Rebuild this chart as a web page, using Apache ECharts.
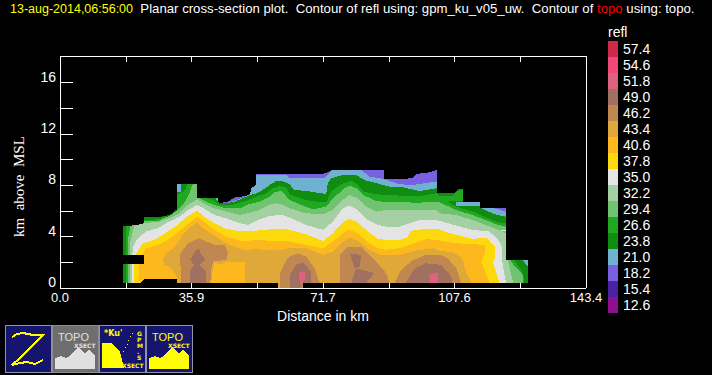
<!DOCTYPE html>
<html>
<head>
<meta charset="utf-8">
<script src="https://cdn.jsdelivr.net/npm/echarts@6/dist/echarts.min.js"></script>
<style>
html, body { margin: 0; padding: 0; background: #000; }
#chart { width: 712px; height: 375px; }
/* the original is an unsmoothed bitmap plot */
#chart svg path { shape-rendering: crispEdges; }
</style>
</head>
<body>
<div id="chart"></div>
<script>
var xTickLabels = ['0.0', '', '35.9', '', '71.7', '', '107.6', '', '143.4'];
var yTickLabels = ['0', '', '4', '', '8', '', '12', '', '16'];
var yTicks = [0, 2, 4, 6, 8, 10, 12, 14, 16];
var legendLabels = ['12.6', '15.4', '18.2', '21.0', '23.8', '26.6', '29.4', '32.2', '35.0',
    '37.8', '40.6', '43.4', '46.2', '49.0', '51.8', '54.6', '57.4'];
var legendColors = ['#8c1090', '#4c20a0', '#7860e0', '#70b0d0', '#108c10', '#20a820', '#70c470', '#a4d0a4', '#e4e4e4',
    '#fcd80c', '#fcb81c', '#e0a838', '#c08850', '#a07060', '#e06080', '#f04878', '#d02848'];

// contour regions, [distance km, height km]
var refl_18_2 = [[17.3,0.4],[17.3,4.86],[22.6,4.86],[23,5.05],[23,5.51],[26.7,5.51],[29.9,5.69],[31.9,6.14],[31.9,8.11],[37.4,8.11],[37.4,7.05],[43.2,7.05],[43.2,6.6],[45.8,6.73],[47.6,7.05],[50.8,7.17],[51.9,7.38],[52.1,7.77],[53.5,8.03],[53.5,8.89],[71.7,8.89],[74.4,9.2],[88.2,9.2],[88.2,8.5],[92.6,8.5],[96.2,8.55],[97.1,8.89],[100.3,8.99],[102.7,9.2],[102.7,7.38],[107.6,7.38],[108.5,7.72],[110,7.72],[110,6.68],[114.4,6.68],[114.4,6.27],[121.46,6.21],[121.46,2.19],[127.5,2.19],[127.5,0.4]];
var refl_21_0 = [[17.3,0.4],[17.3,4.86],[22.6,4.86],[23,5.05],[23,5.51],[26.7,5.51],[29.9,5.69],[31.9,6.14],[31.9,8.11],[37.4,8.11],[37.4,7.05],[43.2,7.05],[43.2,6.6],[45.8,6.65],[47.6,6.8],[50.8,7.17],[51.9,7.38],[52.1,7.77],[53.5,8.03],[53.5,8.84],[61.7,8.84],[62.6,8.6],[72.1,8.6],[74.4,9.2],[82.1,9.2],[84.4,8.68],[88.2,8.5],[92.6,8.08],[96.2,8.03],[102.7,8.29],[102.7,7.38],[107.6,7.38],[108.5,7.72],[110,7.72],[110,6.68],[114.4,6.68],[114.4,6.27],[118.5,6.21],[121.46,5.95],[121.46,2.19],[127.5,2.19],[127.5,0.4]];
var refl_23_8 = [[17.3,0.4],[17.3,4.86],[22.6,4.86],[23,5.05],[23,5.51],[26.7,5.51],[29.9,5.69],[31.9,6.14],[31.9,7.51],[32.9,7.51],[32.9,8.11],[37.4,8.11],[37.4,7.05],[42.2,7.05],[43.3,6.66],[45.3,6.6],[47.6,6.73],[51.2,7.17],[53.5,7.38],[55.3,7.64],[57.6,8.11],[59,8.34],[61.2,8.29],[62.6,8.08],[63.9,7.64],[67.1,7.56],[72.6,7.33],[73,8.16],[73.9,8.55],[77.1,8.81],[80.7,8.81],[83,8.42],[86.4,8.16],[89.8,7.9],[92.6,7.9],[98,7.56],[102.7,7.77],[102.7,7.38],[107.6,7.38],[108.5,7.72],[110,7.72],[110,6.68],[108,6.68],[108,6.42],[114.4,6.42],[114.4,6.27],[115.3,6.14],[118.5,5.75],[121.46,5.56],[121.46,2.19],[126,2.19],[127.5,1.72],[127.5,0.4]];
var refl_26_6 = [[18.04,0.4],[18.04,4.86],[22.6,4.86],[23,5.3],[26.7,5.35],[29.9,5.6],[31.9,6],[31.9,7.25],[32.6,7.38],[34.2,7.64],[34.6,8.11],[37.4,8.11],[37.4,7.05],[39.9,7],[42.1,6.81],[43.5,6.47],[47.1,6.47],[50.8,6.81],[53.5,7.12],[56.2,7.38],[58,7.77],[59.9,7.95],[61.7,7.85],[62.6,7.3],[66.2,6.91],[70.8,6.68],[72.6,6.68],[73.9,7.51],[76.2,8.03],[79.4,8.37],[81.2,8.03],[83,7.51],[86.2,7.3],[89.8,7.25],[92.6,7.2],[98,7.17],[102.7,7.38],[103.46,7.2],[107,7.2],[108.5,7.55],[110,7.72],[110,6.76],[106.2,6.76],[106,6.66],[108,6.34],[112.5,5.95],[118.9,5.17],[121.46,5.04],[121.46,2.19],[123.9,2.19],[126.2,1.15],[126.6,0.4]];
var refl_29_4 = [[18.5,0.4],[18.5,3.75],[19.2,4.86],[22.6,4.97],[23,5.23],[26.7,5.23],[30.3,5.69],[32.1,6.08],[33.5,6.47],[34.9,7.12],[36.2,8.11],[37.4,8.11],[37.4,7.05],[38,6.99],[39.9,6.73],[42.1,6.47],[45.3,6.21],[49,6.21],[51.7,6.55],[54.4,6.73],[57.1,7.12],[58.5,7.46],[60.3,7.59],[62.6,6.86],[66.2,6.42],[69,6.14],[72.6,6.34],[74.4,6.99],[77.6,7.77],[78.9,7.98],[81.2,7.72],[83,7.2],[86.2,6.78],[89.8,6.68],[92.6,6.68],[98,6.65],[102.7,6.73],[103.46,6.68],[108,6.08],[112.5,5.69],[118.9,4.97],[121.46,4.78],[121.46,2.19],[122.8,2.19],[123.7,1.8],[125.3,1.28],[126.2,1.02],[126.2,0.4]];
var refl_32_2 = [[19.1,0.4],[19.1,3.49],[20.3,4.86],[23,5.05],[27.1,5.17],[30.3,5.51],[32.6,5.82],[34.9,6.47],[37.4,6.92],[39.9,6.47],[42.1,6.21],[45.3,5.95],[49,5.69],[51.2,5.82],[54.4,6.08],[57.1,6.47],[58.9,6.6],[60.8,6.47],[62.6,6.21],[67.1,5.82],[71.7,5.75],[74.4,6.08],[77.1,6.86],[78.9,7.25],[81.2,6.99],[83.5,6.34],[86.2,5.95],[88.9,6.08],[92.6,6.08],[98,6.08],[102.7,6.08],[103.46,5.82],[108,5.69],[112.5,5.3],[118.9,4.6],[121.46,4.27],[121.46,2.19],[122.1,2.19],[123,1.02],[123.6,0.4]];
var refl_35_0 = [[19.7,0.4],[19.7,2.45],[19.9,3.23],[21.2,3.88],[23.5,4.4],[26.7,4.66],[29.4,5.12],[32.6,5.56],[34.9,6.08],[37.4,6.47],[39.9,6.08],[42.1,5.69],[45.3,5.43],[49,5.05],[51.2,4.92],[54,5.3],[57.1,5.62],[60.8,5.69],[62.6,5.49],[67.1,4.92],[71.7,4.53],[74.4,5.17],[77.1,6.21],[78.9,6.42],[81.2,6.08],[83.9,5.3],[86.7,4.91],[88.9,4.78],[92.6,4.78],[98,5.3],[102.7,5.3],[103.46,5.23],[108,4.86],[112.5,4.53],[117.1,4.4],[119.4,3.75],[120.5,3.23],[120.5,2.19],[121.2,1.02],[121.6,0.4]];
var refl_35_0_sliver = [[120.1,4.5],[121.46,4.5],[121.46,4.42],[120.1,4.42]];
var refl_37_8 = [[20.3,0.4],[20.3,1.87],[20.8,2.71],[22.6,3.49],[25.8,3.75],[29.4,4.4],[32.1,4.92],[34.6,5.56],[37.4,6.03],[39.9,5.43],[42.1,5.05],[45.3,4.6],[49.9,4.4],[53.5,4.47],[58,4.58],[61.7,4.58],[62.6,4.53],[67.1,4.19],[71.7,3.67],[74.4,4.27],[77.1,5.12],[78.9,5.38],[81.2,5.12],[83.9,4.4],[86.7,3.82],[88.9,3.75],[92.6,3.75],[94.8,3.95],[95.5,4.45],[98.9,4.58],[103,4.58],[103.46,4.53],[108,4.14],[112.5,3.82],[116.2,3.93],[118.5,3.23],[118.5,2.24],[118,2.06],[119.8,0.4]];
var refl_40_6 = [[21.7,0.4],[21.5,1.87],[22.1,2.45],[23.5,3.1],[26.7,3.36],[29.4,3.75],[32.1,4.32],[34.6,4.92],[37.4,5.56],[39.9,5.05],[42.1,4.53],[45.3,4.01],[49.9,3.62],[53.5,3.75],[58,3.67],[61.7,3.7],[62.6,3.62],[67.1,3.36],[71.7,3.1],[74.4,3.62],[77.1,4.27],[78.9,4.53],[81.2,4.27],[83.9,3.56],[86.7,3.1],[88.9,2.97],[92.6,3.1],[99.8,3.8],[103,3.75],[103.46,3.67],[108,3.49],[112.5,3.41],[115.7,3.36],[115.9,2.79],[114.8,2.06],[117.1,0.4]];
var refl_43_4 = [[31.9,0.4],[31.9,0.89],[30.3,1.54],[28.5,1.8],[28,2.19],[29,2.71],[31.2,3.18],[33.5,4.14],[35.8,4.79],[37.4,5.1],[39,4.66],[41.7,4.14],[45.3,3.49],[49.9,2.97],[53.5,3.02],[56.2,2.97],[59.9,2.92],[62.1,3.1],[67.1,3.1],[71.7,2.58],[74.4,2.84],[77.1,3.62],[78.9,3.93],[81.2,3.67],[84.4,2.97],[87.1,2.58],[92.6,2.58],[97.1,2.92],[101.7,3.1],[103.46,2.89],[107.1,2.79],[109,2.45],[110,2.06],[110.3,1.54],[112.1,0.4],[66.2,0.4],[66.2,0],[59.4,0],[59.4,0.4]];
var refl_40_6_pocket = [[41.2,0.4],[41.7,1.41],[42.1,1.93],[44,1.87],[45.8,2.06],[50.3,2.06],[50.3,0.4]];
var refl_46_2_a = [[33,0.4],[33,1.28],[32.6,2.58],[34.9,3.49],[38,3.88],[39.9,3.62],[42.1,3.36],[44.9,3.36],[45.8,2.71],[45.3,2.19],[41.7,2.06],[41.2,1.41],[41,0.4]];
var refl_46_2_b = [[59.9,0],[59.9,1.15],[61.7,2.19],[62.6,2.45],[64.8,2.71],[67.1,2.45],[69.4,1.54],[70.8,0.4],[66.2,0.4],[66.2,0]];
var refl_46_2_c = [[76.2,0.4],[76.2,2.58],[78.5,3.23],[82.1,3.23],[86.2,2.06],[88.9,1.15],[89.8,0.4]];
var refl_46_2_d = [[91.2,0.4],[93,1.41],[96.2,2.19],[99.8,2.58],[103.9,2.58],[105.7,2.32],[108,1.54],[109.4,0.4]];
var refl_49_0_a = [[35.3,0.4],[35.5,1.41],[36.7,1.8],[35.5,2.19],[37.1,2.97],[38,3.02],[38.5,2.58],[39.7,2.19],[37.9,1.8],[39.7,1.28],[39.7,0.4]];
var refl_49_0_b = [[62.6,0],[62.6,1.02],[64.4,1.8],[66.2,2],[68.5,1.28],[68.5,0.4],[65.7,0.4],[65.6,0]];
var refl_49_0_c = [[78.9,2.71],[82.1,2.58],[81.7,1.67],[80.3,1.54]];
var refl_49_0_d = [[79.4,0.4],[80.7,1.54],[85.7,1.15],[83.5,0.4]];
var refl_49_0_e = [[94.2,0.4],[96.7,1.54],[99.8,1.93],[103.9,1.8],[106.7,0.89],[106.9,0.4]];
var refl_51_8_a = [[65.1,1.23],[66.9,1.23],[66.7,0.63],[65.7,0.19],[65.3,0.63]];
var refl_51_8_b = [[100.6,1.07],[103,1.2],[103,0.4],[101,0.4]];
var noEchoNotch = [[17.3,2.58],[23,2.58],[23,1.87],[17.3,1.87]];
var noEchoStrip = [[22.1,0.4],[23,0.71],[31.9,0.71],[31.9,0.4]];

// painted in this order, each one over the last
var layers = [
    ['18.2', refl_18_2], ['21.0', refl_21_0], ['23.8', refl_23_8], ['26.6', refl_26_6],
    ['29.4', refl_29_4], ['32.2', refl_32_2], ['35.0', refl_35_0], ['35.0', refl_35_0_sliver], ['37.8', refl_37_8],
    ['40.6', refl_40_6], ['43.4', refl_43_4], ['40.6', refl_40_6_pocket],
    ['46.2', refl_46_2_a], ['46.2', refl_46_2_b], ['46.2', refl_46_2_c], ['46.2', refl_46_2_d],
    ['49.0', refl_49_0_a], ['49.0', refl_49_0_b], ['49.0', refl_49_0_c], ['49.0', refl_49_0_d], ['49.0', refl_49_0_e],
    ['51.8', refl_51_8_a], ['51.8', refl_51_8_b],
    ['none', noEchoNotch], ['none', noEchoStrip]
];

function layerColor(label) {
    var i = legendLabels.indexOf(label);
    return i < 0 ? '#000' : legendColors[i];
}

function topoIcon(x, fg) {
    return [
        { type: 'text', x: x + 6, y: 331, style: { text: 'TOPO', fill: fg, font: '11px "Liberation Sans"' } },
        { type: 'text', x: x + 22, y: 342, style: { text: 'XSECT', fill: fg, font: 'bold 6px "DejaVu Sans"' } },
        { type: 'polygon', shape: { points: [[x + 3, 369], [x + 3, 358], [x + 9, 356], [x + 14, 358], [x + 18, 356], [x + 26, 347], [x + 33, 353], [x + 37, 350], [x + 43, 355], [x + 43, 369]] }, style: { fill: fg } }
    ];
}

var icons = [
    { type: 'rect', shape: { x: 5, y: 325, width: 46, height: 47 }, style: { fill: '#15156e', stroke: '#8c96a8', lineWidth: 1 } },
    { type: 'rect', shape: { x: 52, y: 325, width: 46, height: 47 }, style: { fill: '#6e6e6e', stroke: '#8c8c8c', lineWidth: 1 } },
    { type: 'rect', shape: { x: 99, y: 325, width: 46, height: 47 }, style: { fill: '#15156e', stroke: '#8c96a8', lineWidth: 1 } },
    { type: 'rect', shape: { x: 146, y: 325, width: 46, height: 47 }, style: { fill: '#15156e', stroke: '#8c96a8', lineWidth: 1 } },
    { type: 'polyline', shape: { points: [[12, 337], [17, 334], [23, 333], [33, 335], [43, 335], [38, 340], [30, 348], [20, 358], [12, 365], [20, 363], [27, 362], [35, 364], [43, 360]] }, style: { stroke: '#ffff00', lineWidth: 2, fill: 'none' } },
    { type: 'text', x: 104, y: 329, style: { text: "*Ku'", fill: '#ffff00', font: 'bold 8px "DejaVu Sans"' } },
    { type: 'polygon', shape: { points: [[102, 343], [112, 343], [120, 352], [124, 368], [102, 368]] }, style: { fill: '#ffff00' } },
    { type: 'polyline', shape: { points: [[120, 359], [133, 332]] }, style: { stroke: '#ffff00', lineWidth: 1, lineDash: [1, 3], fill: 'none' } },
    { type: 'text', x: 137, y: 330, style: { text: 'G\nP\nM\n.\nS', fill: '#ffff00', font: 'bold 6px "DejaVu Sans"', lineHeight: 6 } },
    { type: 'text', x: 122, y: 362, style: { text: 'XSECT', fill: '#ffff00', font: 'bold 6px "DejaVu Sans"' } }
].concat(topoIcon(52, '#e0e0e0'), topoIcon(146, '#ffff00'));

var frameLine = { onZero: false, lineStyle: { color: '#fff', width: 1 } };

var option = {
    backgroundColor: '#000',
    animation: false,
    title: {
        left: 10,
        top: 2,
        padding: 0,
        text: '{d|13-aug-2014,06:56:00}{w|  Planar cross-section plot.  Contour of refl using: gpm_ku_v05_uw.  Contour of }{r|topo}{w| using: topo.}',
        textStyle: {
            rich: {
                d: { color: '#ffff00', fontFamily: 'Liberation Sans', fontSize: 12.5, fontWeight: 'normal' },
                w: { color: '#fff', fontFamily: 'Liberation Sans', fontSize: 13.2, fontWeight: 'normal' },
                r: { color: '#ff0000', fontFamily: 'Liberation Sans', fontSize: 13.2, fontWeight: 'normal' }
            }
        }
    },
    grid: { left: 60, right: 126, top: 56, bottom: 87 },
    xAxis: [{
        type: 'value',
        min: 0,
        max: 143.4,
        interval: 17.925,
        name: 'Distance in km',
        nameLocation: 'middle',
        nameGap: 20,
        nameTextStyle: { color: '#fff', fontFamily: 'Liberation Sans', fontSize: 14 },
        splitLine: { show: false },
        axisLine: frameLine,
        axisTick: { inside: true, length: 6, lineStyle: { color: '#fff' } },
        axisLabel: {
            color: '#fff',
            fontFamily: 'Liberation Sans',
            fontSize: 13,
            margin: 3,
            formatter: function(val) {
                return xTickLabels[Math.round(val / 17.925)];
            }
        }
    }, {
        type: 'value',
        position: 'top',
        min: 0,
        max: 143.4,
        interval: 17.925,
        splitLine: { show: false },
        axisLine: frameLine,
        axisTick: { inside: true, length: 6, lineStyle: { color: '#fff' } },
        axisLabel: { show: false }
    }],
    yAxis: [{
        type: 'value',
        min: 0,
        max: 18.08,
        interval: 2,
        splitLine: { show: false },
        axisLine: frameLine,
        axisTick: { inside: true, length: 13, customValues: yTicks, lineStyle: { color: '#fff' } },
        axisLabel: {
            color: '#fff',
            fontFamily: 'Liberation Sans',
            fontSize: 14,
            margin: 4,
            verticalAlign: 'bottom',
            lineHeight: 12,
            showMaxLabel: false,
            formatter: function(val) {
                return yTickLabels[Math.round(val / 2)] || '';
            }
        }
    }, {
        type: 'value',
        position: 'right',
        min: 0,
        max: 18.08,
        splitLine: { show: false },
        axisLine: frameLine,
        axisTick: { show: false },
        axisLabel: { show: false }
    }],
    visualMap: {
        type: 'piecewise',
        seriesIndex: [],
        left: 608,
        top: 41,
        padding: 0,
        align: 'left',
        itemSymbol: 'rect',
        itemWidth: 10,
        itemHeight: 16,
        itemGap: 0,
        textGap: 5,
        hoverLink: false,
        selectedMode: false,
        textStyle: { color: '#fff', fontFamily: 'Liberation Sans', fontSize: 14 },
        pieces: legendLabels.map(function(label, i) {
            return { value: +label, label: label, color: legendColors[i] };
        })
    },
    graphic: icons.concat([
        { type: 'text', x: 608, y: 25, style: { text: 'refl', fill: '#fff', font: '14px "Liberation Sans"' } },
        { type: 'text', x: 11, y: 237, rotation: Math.PI / 2, style: { text: 'km  above  MSL', fill: '#fff', font: '15px "Liberation Serif"' } }
    ]),
    series: [{
        type: 'custom',
        silent: true,
        coordinateSystem: 'cartesian2d',
        data: layers.map(function(l, i) { return [i]; }),
        encode: { x: 0 },
        renderItem: function(params, api) {
            var layer = layers[params.dataIndex];
            return {
                type: 'polygon',
                shape: { points: layer[1].map(function(p) { return api.coord(p); }) },
                style: { fill: layerColor(layer[0]) }
            };
        }
    }]
};

var chart = echarts.init(document.getElementById('chart'), null, { renderer: 'svg' });
chart.setOption(option);
</script>
</body>
</html>
